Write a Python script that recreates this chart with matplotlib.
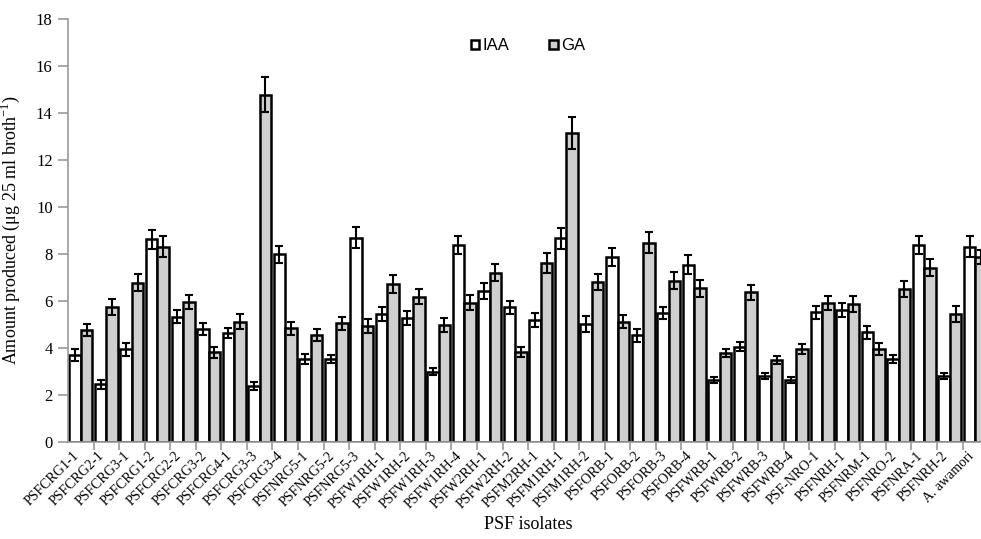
import numpy as np
import matplotlib
matplotlib.use('Agg')
import matplotlib.pyplot as plt
import matplotlib.transforms as mtransforms

plt.rcParams['font.family'] = 'Liberation Serif'
plt.rcParams['mathtext.fontset'] = 'custom'
plt.rcParams['mathtext.rm'] = 'Liberation Serif'

isolates = ['PSFCRG1-1', 'PSFCRG2-1', 'PSFCRG3-1', 'PSFCRG1-2', 'PSFCRG2-2', 'PSFCRG3-2',
            'PSFCRG4-1', 'PSFCRG3-3', 'PSFCRG3-4', 'PSFNRG5-1', 'PSFNRG5-2', 'PSFNRG5-3',
            'PSFW1RH-1', 'PSFW1RH-2', 'PSFW1RH-3', 'PSFW1RH-4', 'PSFW2RH-1', 'PSFW2RH-2',
            'PSFM2RH-1', 'PSFM1RH-1', 'PSFM1RH-2', 'PSFORB-1', 'PSFORB-2', 'PSFORB-3',
            'PSFORB-4', 'PSFWRB-1', 'PSFWRB-2', 'PSFWRB-3', 'PSFWRB-4', 'PSF-NRO-1',
            'PSFNRH-1', 'PSFNRM-1', 'PSFNRO-2', 'PSFNRA-1', 'PSFNRH-2', 'A. awamori']

iaa = [3.69, 2.44, 3.93, 8.62, 5.32, 4.79, 4.62, 2.37, 7.98, 3.52, 3.52, 8.69,
       5.43, 5.26, 2.98, 8.38, 6.43, 5.72, 5.18, 8.66, 5.01, 7.88, 4.54, 5.47,
       7.53, 2.63, 4.05, 2.80, 2.63, 5.51, 5.61, 4.66, 3.52, 8.38, 2.80, 8.31]
iaa_err = [0.24, 0.18, 0.26, 0.40, 0.28, 0.26, 0.21, 0.18, 0.37, 0.20, 0.17, 0.44,
           0.30, 0.31, 0.14, 0.40, 0.34, 0.28, 0.28, 0.45, 0.34, 0.38, 0.28, 0.26,
           0.40, 0.12, 0.18, 0.14, 0.12, 0.28, 0.28, 0.27, 0.17, 0.40, 0.14, 0.43]

ga = [4.76, 5.72, 6.77, 8.31, 5.95, 3.81, 5.11, 14.77, 4.83, 4.54, 5.04, 4.93,
      6.72, 6.18, 4.97, 5.92, 7.20, 3.81, 7.60, 13.16, 6.81, 5.11, 8.48, 6.86,
      6.53, 3.76, 6.36, 3.48, 3.95, 5.92, 5.86, 3.95, 6.50, 7.41, 5.43, 7.88]
ga_err = [0.24, 0.34, 0.37, 0.45, 0.30, 0.24, 0.33, 0.75, 0.28, 0.26, 0.28, 0.30,
          0.38, 0.31, 0.31, 0.33, 0.37, 0.21, 0.43, 0.68, 0.35, 0.28, 0.44, 0.35,
          0.35, 0.17, 0.31, 0.17, 0.20, 0.30, 0.34, 0.24, 0.34, 0.35, 0.33, 0.30]

fig = plt.figure(figsize=(9.81, 5.39), dpi=100)
ax = fig.add_axes([0.0693, 0.1805, 0.938, 0.7842])

x = np.arange(len(isolates))
w = 0.45
ekw = dict(elinewidth=1.5, capthick=1.5, ecolor='black')
ax.bar(x - w/2, iaa, w, yerr=iaa_err, capsize=3, color='white', edgecolor='black',
       linewidth=1.8, error_kw=ekw, label='IAA')
ax.bar(x + w/2, ga, w, yerr=ga_err, capsize=3, color='#cfcfcf', edgecolor='black',
       linewidth=1.8, error_kw=ekw, label='GA')

ax.set_xlim(-0.5, len(isolates) - 0.5)
ax.set_ylim(0, 18)
ax.set_yticks(range(0, 19, 2))

# boundary ticks (major, unlabeled); isolate names drawn as text at the centers
ax.set_xticks(np.arange(len(isolates)) + 0.5)
ax.set_xticklabels([])
trans = ax.get_xaxis_transform() + mtransforms.ScaledTranslation(-4/100, -12/100, fig.dpi_scale_trans)
for i, name in enumerate(isolates):
    ax.text(x[i], 0, name, transform=trans, rotation=45, ha='right', va='center',
            rotation_mode='anchor', fontsize=10)
ax.tick_params(axis='x', which='major', length=6, color='#999999', width=1.2)
ax.tick_params(axis='y', length=7, color='#999999', width=1.2, labelsize=12, pad=4)

for s in ['top', 'right']:
    ax.spines[s].set_visible(False)
for s in ['left', 'bottom']:
    ax.spines[s].set_color('#999999')
    ax.spines[s].set_linewidth(1.2)

ax.set_ylabel(r'Amount produced (μg 25 ml broth$^{-1}$)', fontsize=13, labelpad=10)
fig.text(0.538, 0.012, 'PSF isolates', ha='center', va='bottom', fontsize=13)

leg = ax.legend(loc='upper center', bbox_to_anchor=(0.50, 0.99), ncol=2, frameon=False,
                handlelength=0.5, handleheight=0.5, handletextpad=0.2, columnspacing=2.4,
                prop={'family': 'Liberation Sans', 'size': 12})

fig.savefig('out.png', dpi=100)
